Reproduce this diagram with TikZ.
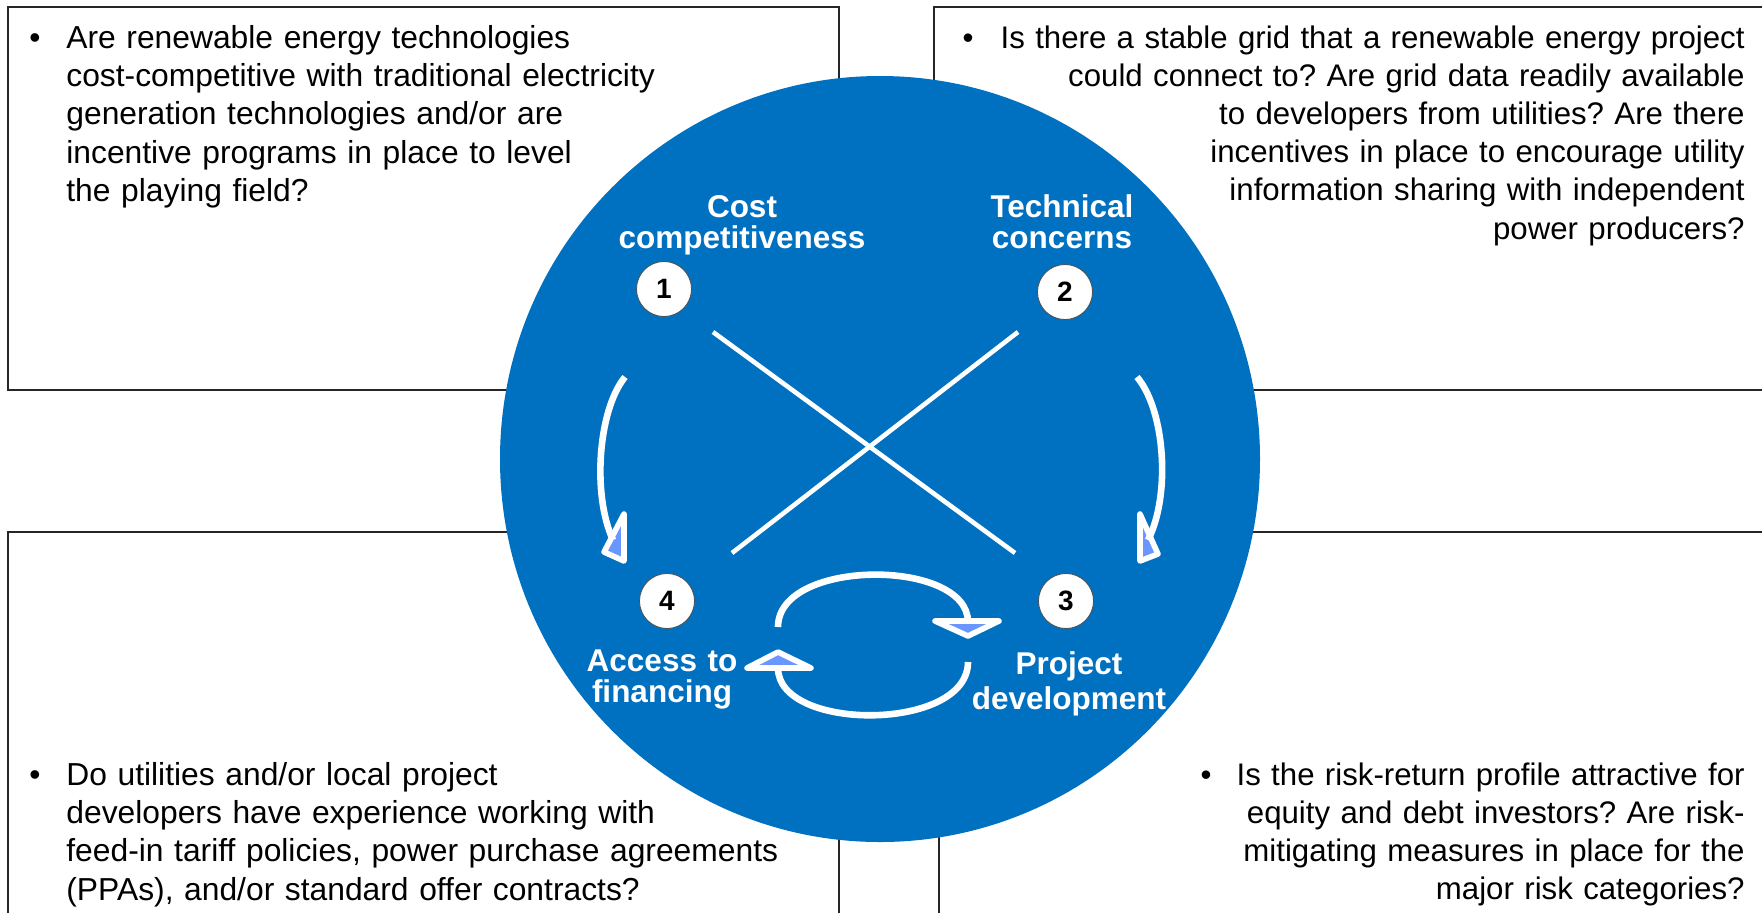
\documentclass[tikz,border=0pt]{standalone}
\usepackage{fontspec}
\setmainfont{Liberation Sans}
\definecolor{cblue}{RGB}{0,112,192}
\definecolor{lblue}{RGB}{105,150,255}
\begin{document}
\frenchspacing
\begin{tikzpicture}[x=0.5pt,y=-0.5pt,
  box/.style={draw=black!85, line width=1pt, fill=white},
  body/.style={font=\fontsize{15.9}{19.2}\selectfont, inner sep=0pt, text width=420pt},
  bodyr/.style={font=\fontsize{15.6}{19.1}\selectfont, inner sep=0pt, text width=420pt},
  lab/.style={text=white, font=\bfseries\fontsize{15.75}{15.5}\selectfont, inner sep=0pt, text width=150pt, align=center},
  num/.style={circle, fill=white, draw=black!70, line width=0.4pt, minimum size=27.5pt, inner sep=0pt, font=\bfseries\fontsize{14}{14}\selectfont},
  xline/.style={white, line width=2.3pt},
  shaft/.style={white, line width=3.3pt},
  head/.style={draw=white, fill=lblue, line width=2.8pt, line join=round}
]
\useasboundingbox (0,0) rectangle (1762,912);
\fill[white] (0,0) rectangle (1762,912);
% boxes
\path[box] (8,7) rectangle (839,390);
\path[box] (934,7) rectangle (1775,390);
\path[box] (8,532) rectangle (839,925);
\path[box] (939,532) rectangle (1775,925);
% big circle
\fill[cblue] (880,459) ellipse [x radius=380, y radius=383];
% texts
\node[body, align=left, anchor=base west] (tl) at (66,48)
 {\llap{\textbullet\hspace{13pt}}Are renewable energy technologies\\cost-competitive with traditional electricity\\generation technologies and/or are\\incentive programs in place to level\\the playing field?};
\node[bodyr, align=right, anchor=base east] (tr) at (1745,48)
 {\textbullet\hspace{13.5pt}Is there a stable grid that a renewable energy project\\could connect to? Are grid data readily available\\to developers from utilities? Are there\\incentives in place to encourage utility\\information sharing with independent\\power producers?};
\node[body, align=left, anchor=base west] (bl) at (66,785)
 {\llap{\textbullet\hspace{13pt}}Do utilities and/or local project\\developers have experience working with\\feed-in tariff policies, power purchase agreements\\(PPAs), and/or standard offer contracts?};
\node[bodyr, align=right, anchor=base east] (br) at (1745,785)
 {\textbullet\hspace{12.5pt}Is the risk-return profile attractive for\\equity and debt investors? Are risk-\\mitigating measures in place for the\\major risk categories?};
% labels
\node[lab, anchor=base] (lcost) at (742,217) {Cost\\competitiveness};
\node[lab, anchor=base] (ltech) at (1062,217) {Technical\\concerns};
\node[lab, anchor=base] (lacc) at (662,671) {Access to\\financing};
\node[lab, anchor=base, font=\bfseries\fontsize{15.75}{17.5}\selectfont] (lproj) at (1069,674) {Project\\development};
% numbers
\node[num] (n1) at (664,289) {1};
\node[num] (n2) at (1065,292) {2};
\node[num] (n3) at (1066,601) {3};
\node[num] (n4) at (667,601) {4};
% X lines
\coordinate (x1a) at (713,332); \coordinate (x1b) at (1015,553);
\coordinate (x2a) at (1018,332); \coordinate (x2b) at (732,553);
\draw[xline] (x1a) -- (x1b);
\draw[xline] (x2a) -- (x2b);
% left curved arrow
\coordinate (la) at (625,377); \coordinate (lb) at (613,540);
\filldraw[head] (604,552) -- (624,514) -- (624,561) -- cycle;
\draw[shaft] (la) .. controls (598,410) and (592,495) .. (lb);
% right curved arrow
\coordinate (ra) at (1137,377); \coordinate (rb) at (1148,540);
\filldraw[head] (1140,514) -- (1158,554) -- (1140,561) -- cycle;
\draw[shaft] (ra) .. controls (1165,410) and (1171,495) .. (rb);
% loop arrows
\coordinate (ua) at (778,627); \coordinate (ub) at (968,622);
\filldraw[head] (935,621) -- (999,621) -- (968,636) -- cycle;
\draw[shaft] (ua) .. controls (778,558) and (968,558) .. (ub);
\coordinate (wa) at (968,662); \coordinate (wb) at (778,668);
\filldraw[head] (747,668) -- (811,668) -- (778,652) -- cycle;
\draw[shaft] (wa) .. controls (968,732) and (778,732) .. (wb);
\end{tikzpicture}
\end{document}
